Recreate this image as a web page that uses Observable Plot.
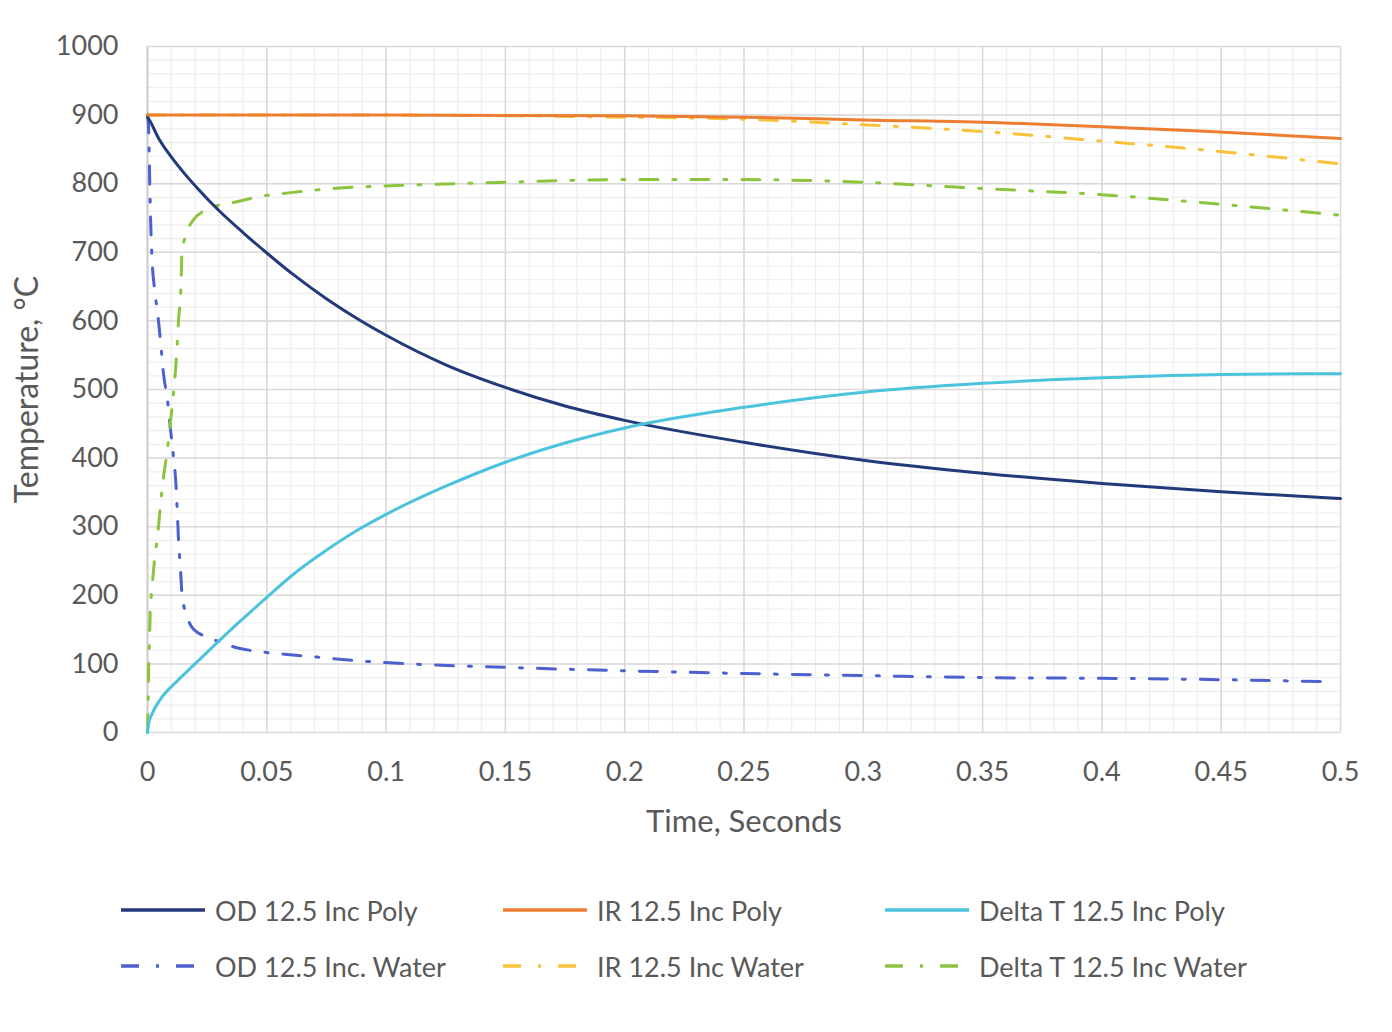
<!DOCTYPE html>
<html>
<head>
<meta charset="utf-8">
<script src="https://cdn.jsdelivr.net/npm/d3@7"></script>
<script src="https://cdn.jsdelivr.net/npm/@observablehq/plot@0.6"></script>
<style>
  html, body { margin: 0; padding: 0; background: #ffffff; }
  #wrap { width: 1392px; position: relative; font-family: Lato, "Open Sans", sans-serif; color: #595959; }
  #legend { position: relative; width: 1392px; height: 172px; }
  .item { position: absolute; display: flex; align-items: center; font-size: 27px; color: #595959; white-space: nowrap; }
  .item svg { margin-right: 9px; }
</style>
</head>
<body>
<div id="wrap">
  <div id="chart"></div>
  <div id="legend"></div>
</div>
<script>
// ---- Data ----
const odPolyT = [0, 0.0006, 0.0047, 0.0102, 0.0157, 0.0213, 0.0296, 0.0406, 0.05, 0.0613, 0.0751, 0.089, 0.1, 0.125, 0.15, 0.175, 0.2, 0.25, 0.3, 0.35, 0.4, 0.45, 0.5];
const odPolyV = [897, 894, 866, 838, 814, 792, 762, 727, 699, 667, 632, 601, 579, 536, 503, 476, 455, 423, 397, 378, 363, 351, 341];

const irPolyT = [0, 0.1, 0.2, 0.25, 0.3, 0.357, 0.4, 0.441, 0.5];
const irPolyV = [900, 900, 899, 897, 893, 889, 883, 877, 866];

const dtPolyT = [0, 0.0005, 0.0019, 0.0035, 0.0061, 0.0095, 0.013, 0.0199, 0.0268, 0.0378, 0.05, 0.0613, 0.0751, 0.089, 0.1, 0.125, 0.15, 0.175, 0.2, 0.25, 0.3, 0.35, 0.4, 0.45, 0.5];
const dtPolyV = [0, 13, 27, 38, 52, 65, 77, 100, 123, 159, 197, 231, 266, 297, 318, 359, 394, 422, 444, 474, 496, 509, 517, 522, 523];

const odWaterT = [0, 0.0004, 0.0007, 0.001, 0.0015, 0.0019, 0.003, 0.0044, 0.0056, 0.0067, 0.0084, 0.0096, 0.0109, 0.0119, 0.0125, 0.013, 0.0138, 0.0145, 0.0165, 0.0192, 0.0268, 0.037, 0.0489, 0.061, 0.071, 0.083, 0.0945, 0.15, 0.2, 0.25, 0.3, 0.35, 0.4, 0.45, 0.495];
const odWaterV = [900, 885, 848, 790, 725, 690, 645, 607, 565, 523, 484, 443, 401, 363, 321, 280, 240, 200, 170, 151, 137, 124, 117, 113, 110, 106, 103, 95, 90, 86, 83, 80, 79, 77, 74];

const irWaterT = [0, 0.1, 0.15, 0.2, 0.25, 0.3, 0.35, 0.3765, 0.4, 0.434, 0.5];
const irWaterV = [900, 900, 899, 897, 894, 886, 876, 869, 862, 852, 829];

const dtWaterT = [0, 0.0003, 0.0005, 0.0008, 0.0011, 0.0019, 0.0029, 0.0044, 0.0054, 0.0067, 0.0084, 0.0096, 0.0109, 0.0118, 0.0126, 0.013, 0.0141, 0.0144, 0.0164, 0.0192, 0.0261, 0.0365, 0.0482, 0.06, 0.071, 0.082, 0.0945, 0.15, 0.2, 0.25, 0.3, 0.35, 0.4, 0.45, 0.5];
const dtWaterV = [0, 50, 100, 130, 172, 211, 250, 292, 330, 372, 414, 452, 494, 532, 574, 600, 657, 698, 728, 747, 764, 773, 782, 787, 791, 794, 796, 802, 806, 806, 802, 793, 784, 770, 754];

const xTicks = [0, 0.05, 0.1, 0.15, 0.2, 0.25, 0.3, 0.35, 0.4, 0.45, 0.5];
const yTicks = [0, 100, 200, 300, 400, 500, 600, 700, 800, 900, 1000];
const xMinor = d3.range(0, 51).map(i => i / 100);
const yMinor = d3.range(0, 51).map(i => i * 20);

const seriesNames = ["OD 12.5 Inc Poly", "IR 12.5 Inc Poly", "Delta T 12.5 Inc Poly", "OD 12.5 Inc. Water", "IR 12.5 Inc Water", "Delta T 12.5 Inc Water"];
const seriesColors = ["#22397a", "#ed7d31", "#4bc3dd", "#4d60d0", "#f8c23a", "#8cc43e"];
const seriesDash = [null, null, null, "18,15,3,15", "18,15,3,15", "18,15,3,15"];

// ---- build table ----
const seriesT = [odPolyT, irPolyT, dtPolyT, odWaterT, irWaterT, dtWaterT];
const seriesV = [odPolyV, irPolyV, dtPolyV, odWaterV, irWaterV, dtWaterV];
const rows = seriesNames.map((name, i) => seriesT[i].map((t, j) => ({series: name, t, v: seriesV[i][j]})));

const lineMarks = rows.map((data, i) => Plot.line(data, {
  x: "t", y: "v",
  stroke: seriesColors[i],
  strokeWidth: 3,
  strokeDasharray: seriesDash[i] || undefined,
  curve: "monotone-x"
}));

const order = [3, 5, 4, 0, 2, 1];

const chart = Plot.plot({
  width: 1392,
  height: 860,
  marginLeft: 147,
  marginRight: 52,
  marginTop: 46,
  marginBottom: 128,
  x: {domain: [0, 0.5]},
  y: {domain: [0, 1000]},
  style: {fontFamily: "Lato, 'Open Sans', sans-serif", color: "#595959", background: "#ffffff", overflow: "visible"},
  marks: [
    Plot.gridX(xMinor, {stroke: "#eeeeee", strokeOpacity: 1, strokeWidth: 1.2}),
    Plot.gridY(yMinor, {stroke: "#eeeeee", strokeOpacity: 1, strokeWidth: 1.2}),
    Plot.gridX(xTicks, {stroke: "#d9d9d9", strokeOpacity: 1, strokeWidth: 1.5}),
    Plot.gridY(yTicks, {stroke: "#d9d9d9", strokeOpacity: 1, strokeWidth: 1.5}),
    Plot.ruleX([0], {stroke: "#cfcfcf", strokeWidth: 2}),
    Plot.axisX(xTicks, {tickSize: 0, tickPadding: 29, fontSize: 27, fill: "#595959", label: null, tickFormat: d => String(+d.toFixed(2))}),
    Plot.axisY(yTicks, {tickSize: 0, tickPadding: 29, fontSize: 27, fill: "#595959", label: null, tickFormat: d => String(d)}),
    Plot.text(["Time, Seconds"], {text: d => d, frameAnchor: "bottom", dy: 90, lineAnchor: "middle", textAnchor: "middle", fontSize: 31, fill: "#595959"}),
    Plot.text(["Temperature, °C"], {text: d => d, frameAnchor: "left", dx: -120, rotate: -90, textAnchor: "middle", lineAnchor: "middle", fontSize: 32, fill: "#595959"}),
    ...order.map(i => lineMarks[i])
  ]
});
document.getElementById("chart").appendChild(chart);

// ---- legend (HTML below the SVG) ----
const legend = document.getElementById("legend");
const colX = [120, 502, 884];
const rowY = [50, 106];
seriesNames.forEach((name, i) => {
  const col = i % 3, row = Math.floor(i / 3);
  const div = document.createElement("div");
  div.className = "item";
  div.style.left = colX[col] + "px";
  div.style.top = (rowY[row] - 18) + "px";
  div.style.height = "36px";
  const dash = seriesDash[i] ? `stroke-dasharray="18,17,3,17"` : "";
  div.innerHTML = `<svg width="86" height="10"><line x1="1" y1="5" x2="85" y2="5" stroke="${seriesColors[i]}" stroke-width="3.5" ${dash}/></svg><span>${name}</span>`;
  legend.appendChild(div);
});
</script>
</body>
</html>
